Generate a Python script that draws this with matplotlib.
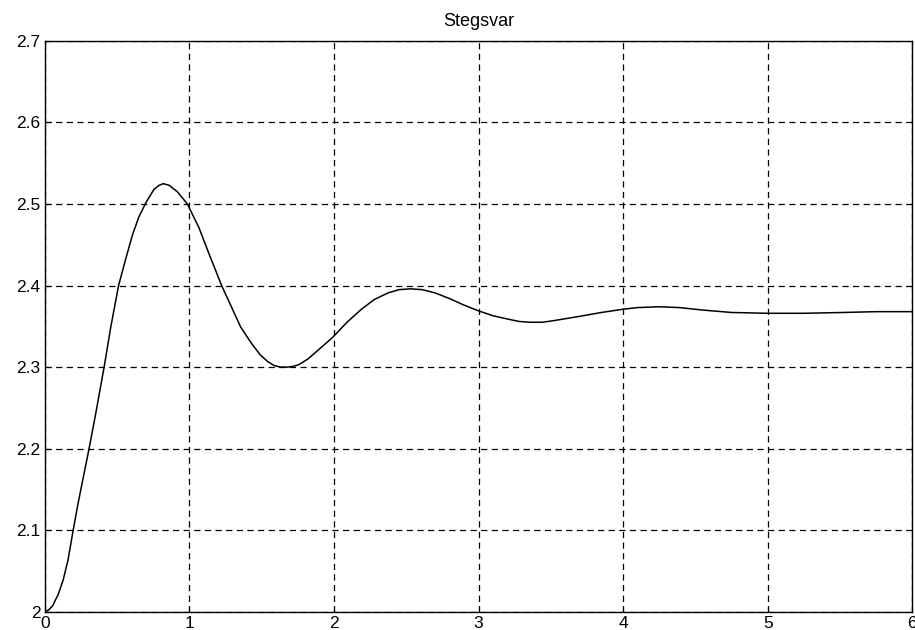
import matplotlib.pyplot as plt

# Stegsvar - avlästa punkter från kurvan
t = [0, 0.025, 0.053, 0.092, 0.127, 0.161, 0.196, 0.23, 0.265, 0.306, 0.352,
     0.41, 0.456, 0.51, 0.56, 0.606, 0.65, 0.70, 0.755, 0.79, 0.82, 0.86,
     0.917, 0.986, 1.066, 1.14, 1.223, 1.355, 1.43, 1.49, 1.54, 1.585, 1.63,
     1.677, 1.72, 1.757, 1.82, 1.885, 1.988, 2.09, 2.19, 2.28, 2.374, 2.45,
     2.53, 2.61, 2.7, 2.8, 2.9, 3.0, 3.1, 3.2, 3.28, 3.356, 3.44, 3.52, 3.69,
     3.85, 4.0, 4.10, 4.25, 4.39, 4.55, 4.75, 5.0, 5.25, 5.52, 5.75, 6.0]
y = [2.0, 2.002, 2.007, 2.021, 2.039, 2.064, 2.1, 2.133, 2.164, 2.2, 2.243,
     2.3, 2.349, 2.4, 2.433, 2.462, 2.484, 2.502, 2.518, 2.523, 2.525, 2.523,
     2.515, 2.5, 2.471, 2.437, 2.4, 2.349, 2.329, 2.315, 2.307, 2.302, 2.300,
     2.300, 2.301, 2.303, 2.310, 2.320, 2.336, 2.355, 2.371, 2.383, 2.391, 2.395,
     2.396, 2.395, 2.391, 2.384, 2.376, 2.369, 2.363, 2.359, 2.356, 2.355, 2.355,
     2.357, 2.362, 2.367, 2.371, 2.373, 2.374, 2.373, 2.370, 2.367, 2.366, 2.366,
     2.367, 2.368, 2.368]

xticks = [0, 1, 2, 3, 4, 5, 6]
yticks = [2.0, 2.1, 2.2, 2.3, 2.4, 2.5, 2.6, 2.7]
ytick_labels = ["2", "2.1", "2.2", "2.3", "2.4", "2.5", "2.6", "2.7"]

plt.rcParams["font.family"] = ["Liberation Sans", "DejaVu Sans"]

fig = plt.figure(figsize=(9.15, 6.3), dpi=100)
ax = fig.add_axes([0.049, 0.029, 0.948, 0.906])

ax.plot(t, y, color="black", linewidth=1.1)

ax.set_xlim(0, 6)
ax.set_ylim(2.0, 2.7)
ax.set_xticks(xticks)
ax.set_xticklabels([str(v) for v in xticks])
ax.set_yticks(yticks)
ax.set_yticklabels(ytick_labels)
ax.tick_params(direction="in", length=4, labelsize=12.5, colors="black", pad=3)

ax.grid(True, color="black", linestyle=(0, (5, 3.5)), linewidth=0.9)
for s in ax.spines.values():
    s.set_linewidth(1.0)
    s.set_color("black")

ax.set_title("Stegsvar", fontsize=13, pad=11)

fig.savefig("out.png", dpi=100)
